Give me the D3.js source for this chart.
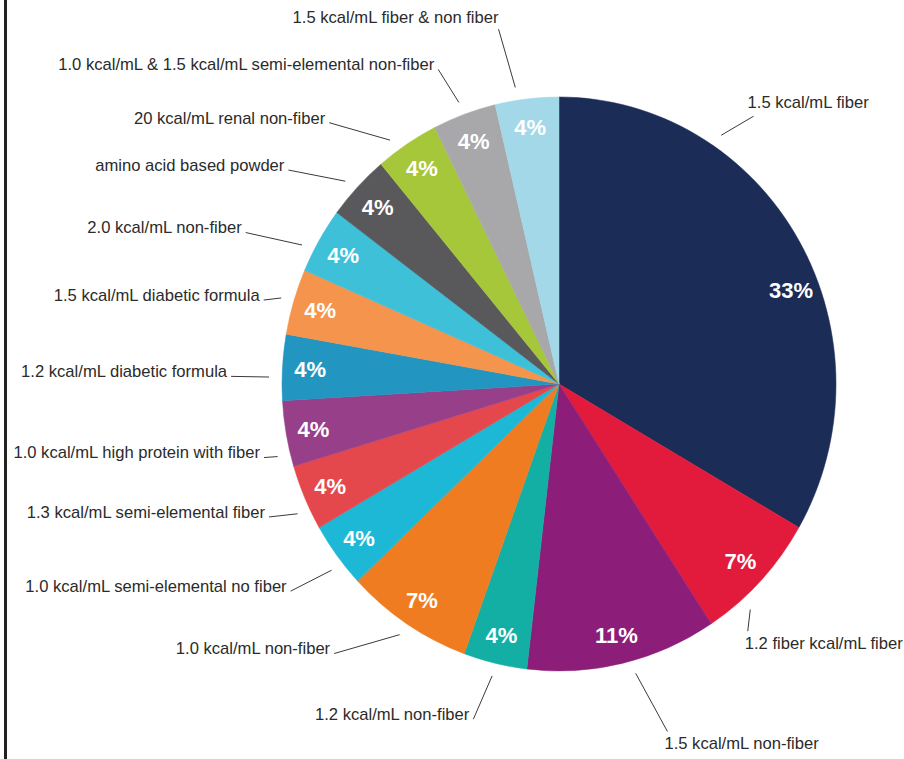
<!DOCTYPE html>
<html>
<head>
<meta charset="utf-8">
<script src="https://cdn.jsdelivr.net/npm/d3@7"></script>
<style>
  html, body { margin: 0; padding: 0; background: #fff; }
  svg { display: block; }
</style>
</head>
<body>
<svg id="chart" width="904" height="759"></svg>
<script>
// ---- data ----
const categories = [
  "1.5 kcal/mL fiber",
  "1.2 fiber kcal/mL fiber",
  "1.5 kcal/mL non-fiber",
  "1.2 kcal/mL non-fiber",
  "1.0 kcal/mL non-fiber",
  "1.0 kcal/mL semi-elemental no fiber",
  "1.3 kcal/mL semi-elemental fiber",
  "1.0 kcal/mL high protein with fiber",
  "1.2 kcal/mL diabetic formula",
  "1.5 kcal/mL diabetic formula",
  "2.0 kcal/mL non-fiber",
  "amino acid based powder",
  "20 kcal/mL renal non-fiber",
  "1.0 kcal/mL & 1.5 kcal/mL semi-elemental non-fiber",
  "1.5 kcal/mL fiber & non fiber"
];
const counts = [9, 2, 3, 1, 2, 1, 1, 1, 1, 1, 1, 1, 1, 1, 1];
const percentLabels = ["33%", "7%", "11%", "4%", "7%", "4%", "4%", "4%", "4%", "4%", "4%", "4%", "4%", "4%", "4%"];
const colors = [
  "#1b2c56", "#e21b3c", "#8c1e79", "#13afa5", "#f07c22",
  "#1db8d6", "#e4484d", "#973f89", "#2296c0", "#f5944c",
  "#3ec0d9", "#59595c", "#a6c73a", "#a8a7aa", "#a3d8e8"
];

// ---- layout (annotation placement, not data) ----
const cx = 559, cy = 384, rx = 277, ry = 287;
const leaderInnerTweak = [-26, 5.4, -2, 0, 0, -1.7, -2.3, -4, -2, 0, -2.4, -0.8, -2.3, -0.2, -2];
const leaderOuterTweak = [-24, 9.3, -4, 1, 6.5, -1, -1.3, -4, -2, -0.8, -4.2, -5, -8, -1, -3];
const leaderLen = [331, 311, 364, 346, 351, 339, 319, 304, 328, 307, 348, 345, 348, 337, 360];

const svg = d3.select("#chart");

// left border line
svg.append("rect").attr("x", 4).attr("y", 0).attr("width", 3).attr("height", 759).attr("fill", "#222");

const pie = d3.pie().sort(null).value(d => d);
const arcs = pie(counts);
const arc = d3.arc().innerRadius(0).outerRadius(rx);

const g = svg.append("g").attr("transform", `translate(${cx},${cy}) scale(1,${ry / rx})`);
g.selectAll("path").data(arcs).enter().append("path")
  .attr("d", arc)
  .attr("fill", (d, i) => colors[i])
  .attr("stroke", (d, i) => colors[i])
  .attr("stroke-width", 0.5);

const deg = Math.PI / 180;
const ell = (a, k) => [cx + Math.sin(a) * rx * k, cy - Math.cos(a) * ry * k];

// percentage labels
svg.append("g").selectAll("text").data(arcs).enter().append("text")
  .each(function (d, i) {
    let a = (d.startAngle + d.endAngle) / 2 + (i === 0 ? 8.6 * deg : 0);
    const [x, y] = ell(a, 0.9);
    d3.select(this).attr("x", x).attr("y", y);
  })
  .attr("dy", "0.36em")
  .attr("text-anchor", "middle")
  .attr("fill", "#fff")
  .attr("font-family", "'Liberation Sans', Arial, Helvetica, sans-serif")
  .attr("font-weight", "bold")
  .attr("font-size", "22px")
  .text((d, i) => percentLabels[i]);

// leader lines + category labels
const lab = svg.append("g");
arcs.forEach((d, i) => {
  const mid = (d.startAngle + d.endAngle) / 2;
  const ai = mid + leaderInnerTweak[i] * deg;
  const ao = mid + leaderOuterTweak[i] * deg;
  const x1 = cx + Math.sin(ai) * (rx + 13), y1 = cy - Math.cos(ai) * (ry + 13);
  const L = leaderLen[i];
  const x2 = cx + Math.sin(ao) * L, y2 = cy - Math.cos(ao) * L;
  lab.append("line")
    .attr("x1", x1).attr("y1", y1).attr("x2", x2).attr("y2", y2)
    .attr("stroke", "#3a3a3a").attr("stroke-width", 1);
  const ad = ao / deg;
  let anchor, tx, ty;
  if (ad < 180) {
    anchor = "start";
    if (ad < 90) { tx = x2 - 6; ty = y2 - 14; }
    else { tx = x2 - 3; ty = y2 + 12; }
  } else {
    anchor = "end";
    if (ad > 345) { tx = x2; ty = y2 - 12; }
    else { tx = x2 - 4; ty = y2 - 5; }
  }
  lab.append("text")
    .attr("x", tx).attr("y", ty).attr("dy", "0.35em")
    .attr("text-anchor", anchor)
    .attr("fill", "#2b2b2b")
    .attr("font-family", "'Liberation Sans', Arial, Helvetica, sans-serif")
    .attr("font-size", "16.6px")
    .text(categories[i]);
});
</script>
</body>
</html>
